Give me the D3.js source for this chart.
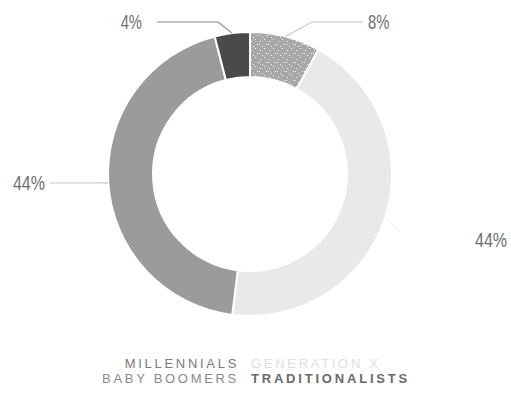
<!DOCTYPE html>
<html>
<head>
<meta charset="utf-8">
<script src="https://cdn.jsdelivr.net/npm/d3@7"></script>
<style>
  body { margin: 0; background: #fff; }
  svg { display: block; }
</style>
</head>
<body>
<div id="chart"></div>
<script>
// Donut of workforce generations, clockwise from 12 o'clock
let generations = ["MILLENNIALS", "GENERATION X", "BABY BOOMERS", "TRADITIONALISTS"];
let shares = [8, 44, 44, 4];
let shareLabels = ["8%", "44%", "44%", "4%"];

let width = 511, height = 393;
let cx = 250, cy = 174;
let outerR = 142, innerR = 97;

let sliceColors = ["url(#speckle)", "#e9e9e9", "#9b9b9b", "#4a4a4a"];
let legendColors = ["#7a7a7a", "#dedede", "#8a8a8a", "#6a6a6a"];
let lineColors = ["#c8c8c8", "#f3f3f3", "#c8c8c8", "#8a8a8a"];

let svg = d3.select("#chart")
    .append("svg")
    .attr("width", width)
    .attr("height", height);

// speckled grey fill for the small slice
let defs = svg.append("defs");
let pat = defs.append("pattern")
    .attr("id", "speckle")
    .attr("patternUnits", "userSpaceOnUse")
    .attr("width", 9).attr("height", 9);
pat.append("rect").attr("width", 9).attr("height", 9).attr("fill", "#a8a8a8");
[[1, 2], [5, 0], [7, 5], [3, 7], [0, 5]].forEach(function(p) {
    pat.append("rect").attr("x", p[0]).attr("y", p[1])
        .attr("width", 1).attr("height", 1).attr("fill", "#f4f4f4");
});

let g = svg.append("g").attr("transform", "translate(" + cx + "," + cy + ")");

let pie = d3.pie().sort(null).value(function(d) { return d; });
let arcs = pie(shares);

let arc = d3.arc().innerRadius(innerR).outerRadius(outerR);

g.selectAll("path.slice")
    .data(arcs)
    .enter()
    .append("path")
        .attr("class", "slice")
        .attr("d", arc)
        .attr("fill", function(d, i) { return sliceColors[i]; })
        .attr("stroke", "#fff")
        .attr("stroke-width", 2);

// leader lines + labels: elbow point and label position per slice
let elbows = [[62, -152], [150, 58], [-162, 9], [-32, -152]];
let lineEnds = [[113, -152], [150, 58], [-200, 9], [-93, -152]];
let labelPos = [[118, -152], [225, 66], [-205, 9], [-108, -152]];

let mid = d3.arc().innerRadius(outerR).outerRadius(outerR);

arcs.forEach(function(d, i) {
    let start = mid.centroid(d);
    g.append("polyline")
        .attr("points", [start, elbows[i], lineEnds[i]].map(function(p) { return p.join(","); }).join(" "))
        .attr("fill", "none")
        .attr("stroke", lineColors[i])
        .attr("stroke-width", 1.2);
    // condensed look: squeeze the label horizontally around its anchor
    let lbl = g.append("g")
        .attr("transform", "translate(" + labelPos[i][0] + "," + labelPos[i][1] + ")");
    let t = lbl.append("text")
        .attr("dy", "0.36em")
        .attr("text-anchor", labelPos[i][0] < 0 ? "end" : "start")
        .attr("font-family", "'Liberation Sans', Arial, sans-serif")
        .attr("font-size", 20.5)
        .attr("fill", "#6e6e6e")
        .text(shareLabels[i]);
    let sx = (shareLabels[i].length * 10.7) / t.node().getComputedTextLength();
    t.attr("transform", "scale(" + sx + ",1)");
});

// legend: two rows, two columns
let legend = svg.append("g");
let legX = [239, 251];
let legY = [363, 378];
generations.forEach(function(name, i) {
    let col = i % 2, row = Math.floor(i / 2);
    legend.append("text")
        .attr("x", legX[col])
        .attr("y", legY[row])
        .attr("dy", "0.36em")
        .attr("text-anchor", col === 0 ? "end" : "start")
        .attr("font-family", "'Liberation Sans', Arial, sans-serif")
        .attr("font-size", 13)
        .attr("font-weight", i === 3 ? "bold" : "normal")
        .attr("letter-spacing", i === 3 ? 2.8 : 2.7)
        .attr("fill", legendColors[i])
        .text(name);
});
</script>
</body>
</html>
